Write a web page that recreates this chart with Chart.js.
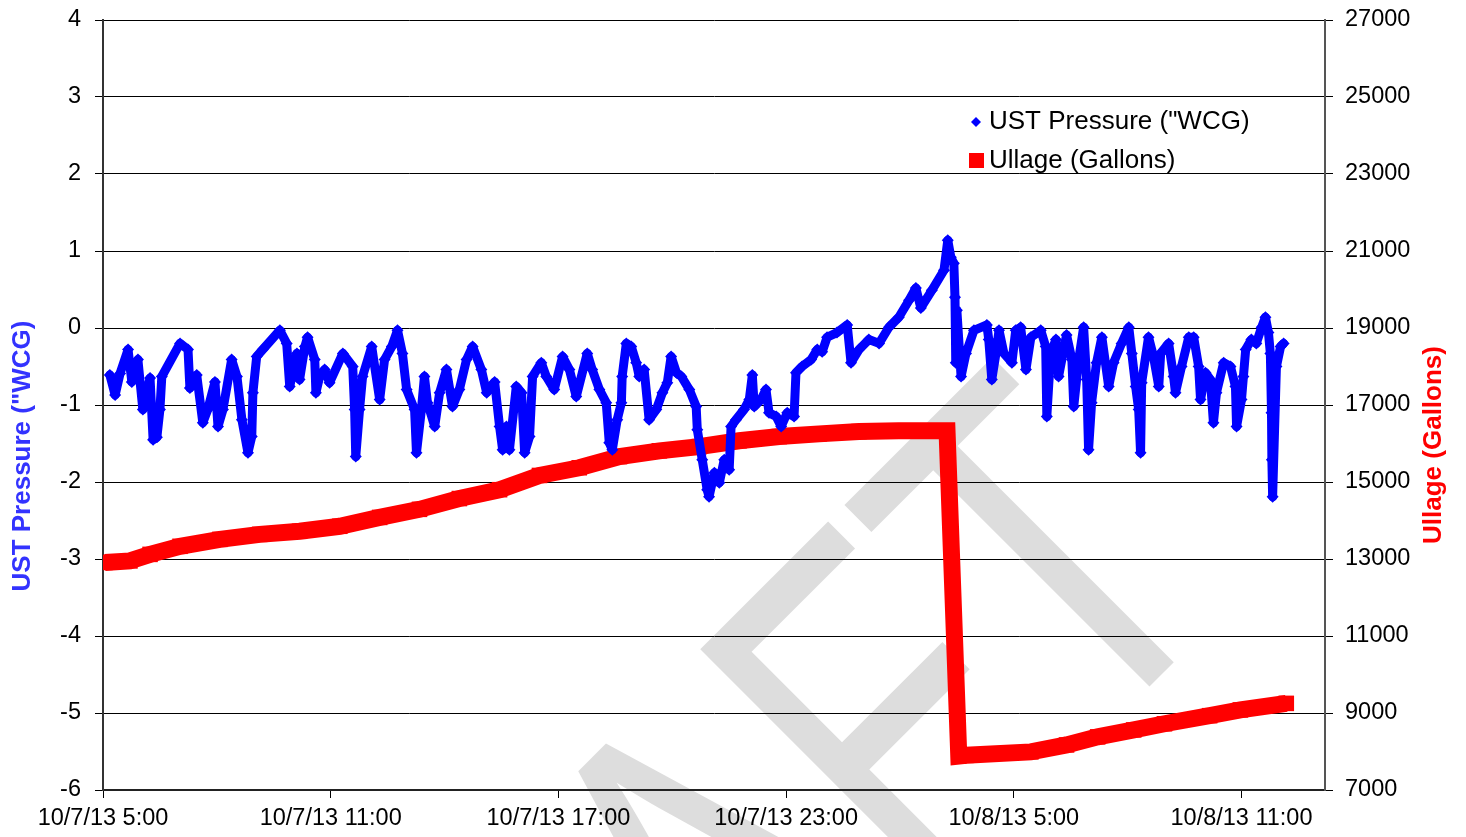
<!DOCTYPE html>
<html>
<head>
<meta charset="utf-8">
<script src="https://cdn.jsdelivr.net/npm/chart.js@4.4.0/dist/chart.umd.min.js"></script>
<style>
  html, body { margin: 0; padding: 0; background: #fff; }
  canvas { display: block; }
</style>
</head>
<body>
<canvas id="ustChart" width="1466" height="837"></canvas>
<script>
// hours after 10/7/13 5:00
const pressureHours = [
  0.18,0.32,0.45,0.66,0.76,0.92,1.05,1.24,1.32,1.42,1.50,1.55,2.03,2.24,2.29,2.47,2.63,2.76,2.95,3.03,
  3.16,3.39,3.53,3.66,3.82,3.92,3.95,4.05,4.21,4.66,4.84,4.92,5.11,5.18,5.32,5.39,5.58,5.61,5.71,5.84,
  5.97,6.32,6.58,6.63,6.66,6.76,6.84,7.08,7.29,7.42,7.61,7.76,7.89,8.00,8.21,8.26,8.39,8.47,8.55,8.74,
  8.87,9.05,9.21,9.39,9.58,9.74,9.97,10.11,10.32,10.45,10.53,10.63,10.71,10.89,11.03,11.11,11.24,11.32,11.55,11.68,
  11.89,12.11,12.29,12.47,12.76,12.89,13.08,13.26,13.34,13.42,13.55,13.66,13.68,13.79,13.92,14.05,14.13,14.26,14.39,14.58,
  14.74,14.87,14.97,15.11,15.24,15.45,15.63,15.66,15.79,15.92,15.97,16.11,16.24,16.37,16.50,16.55,16.68,16.89,17.03,17.11,
  17.16,17.34,17.47,17.55,17.74,17.87,18.03,18.21,18.26,18.42,18.66,18.82,18.95,19.08,19.34,19.61,19.71,19.92,20.18,20.45,
  20.71,20.97,21.24,21.42,21.55,21.84,22.16,22.26,22.34,22.42,22.45,22.47,22.50,22.61,22.74,22.95,23.29,23.34,23.42,23.53,
  23.61,23.74,23.95,24.05,24.18,24.32,24.45,24.71,24.84,24.87,24.97,25.11,25.18,25.39,25.53,25.58,25.71,25.84,25.92,25.97,
  26.05,26.18,26.32,26.50,26.63,26.84,27.03,27.11,27.21,27.29,27.34,27.37,27.55,27.68,27.82,27.87,28.08,28.21,28.26,28.42,
  28.61,28.74,28.87,28.92,29.05,29.18,29.26,29.34,29.53,29.71,29.84,29.87,30.00,30.05,30.11,30.26,30.39,30.53,30.63,30.71,
  30.76,30.79,30.80,30.82,30.92,31.03,31.11
];
const pressureValues = [
  -0.61,-0.87,-0.59,-0.28,-0.70,-0.41,-1.06,-0.65,-1.45,-1.42,-1.06,-0.63,-0.20,-0.28,-0.78,-0.61,-1.23,-1.06,-0.70,-1.28,
  -1.06,-0.41,-0.63,-1.19,-1.62,-1.41,-0.84,-0.37,-0.28,-0.03,-0.20,-0.76,-0.33,-0.67,-0.24,-0.12,-0.41,-0.84,-0.63,-0.54,
  -0.71,-0.33,-0.50,-1.06,-1.67,-1.06,-0.63,-0.24,-0.93,-0.41,-0.24,-0.03,-0.33,-0.80,-1.06,-1.62,-1.06,-0.63,-0.97,-1.28,
  -0.84,-0.54,-1.02,-0.80,-0.41,-0.24,-0.54,-0.84,-0.70,-1.28,-1.58,-1.28,-1.58,-0.76,-0.84,-1.62,-1.41,-0.63,-0.45,-0.63,
  -0.80,-0.37,-0.54,-0.89,-0.33,-0.54,-0.80,-0.97,-1.49,-1.58,-1.19,-0.97,-0.63,-0.20,-0.24,-0.45,-0.63,-0.54,-1.19,-1.06,
  -0.84,-0.71,-0.37,-0.58,-0.63,-0.80,-1.02,-1.32,-1.71,-2.10,-2.19,-1.88,-2.01,-1.71,-1.84,-1.28,-1.19,-1.06,-0.93,-0.61,
  -1.02,-0.93,-0.80,-1.10,-1.15,-1.28,-1.10,-1.15,-0.58,-0.50,-0.41,-0.28,-0.31,-0.12,-0.06,0.04,-0.45,-0.28,-0.15,-0.20,
  0.01,0.14,0.36,0.52,0.26,0.49,0.75,1.14,0.92,0.84,0.40,-0.45,0.23,-0.63,-0.33,-0.03,0.04,-0.15,-0.67,-0.33,
  -0.03,-0.33,-0.45,-0.03,0.01,-0.54,-0.12,-0.03,-0.24,-1.15,-0.33,-0.15,-0.63,-0.09,-0.41,-1.02,-0.41,0.01,-0.67,-1.58,
  -0.97,-0.45,-0.12,-0.76,-0.45,-0.20,0.01,-0.33,-0.76,-1.06,-1.62,-0.71,-0.12,-0.37,-0.76,-0.33,-0.20,-0.63,-0.84,-0.50,
  -0.12,-0.12,-0.50,-0.93,-0.58,-0.67,-1.23,-0.84,-0.45,-0.50,-0.76,-1.28,-0.93,-0.63,-0.28,-0.15,-0.20,0.01,0.14,-0.06,
  -0.33,-1.10,-1.71,-2.19,-0.50,-0.24,-0.20
];

const ullageHours = [0.05, 0.71, 1.24, 2.03, 3.08, 4.13, 5.18, 6.24, 7.29, 8.34, 9.39, 10.45, 11.50, 12.55, 13.61, 14.66,
  15.71, 16.76, 17.82, 18.87, 19.92, 20.97, 22.03, 22.24, 22.55, 22.74, 24.45, 25.39, 26.21, 27.16, 27.97, 29.16, 29.97, 31.18];
const ullageValues = [12910, 12950, 13120, 13330, 13510, 13640, 13720, 13850, 14080, 14290, 14570, 14800, 15170, 15370, 15660, 15810,
  15920, 16070, 16180, 16250, 16310, 16330, 16330, 16330, 7880, 7900, 7990, 8170, 8380, 8560, 8720, 8930, 9080, 9250];

const xTickHours = [0, 6, 12, 18, 24, 30];
const xTickLabels = ['10/7/13 5:00', '10/7/13 11:00', '10/7/13 17:00', '10/7/13 23:00', '10/8/13 5:00', '10/8/13 11:00'];

Chart.defaults.font.family = 'Arial, "Liberation Sans", sans-serif';
Chart.defaults.color = '#000';

// grey DRAFT watermark behind everything
const watermark = {
  id: 'watermark',
  beforeDraw(chart) {
    const ctx = chart.ctx;
    ctx.save();
    ctx.fillStyle = '#fff';
    ctx.fillRect(0, 0, chart.width, chart.height);
    ctx.setTransform(2.616, -2.616, 3.535, 3.535, 922, 914);
    ctx.fillStyle = '#dddddd';
    ctx.font = '100px Arial, "Liberation Sans"';
    ctx.textBaseline = 'alphabetic';
    ctx.textAlign = 'right';
    ctx.fillText('DRA', 0, 0);
    ctx.textAlign = 'left';
    ctx.fillText('FT', 0, 0);
    ctx.restore();
  }
};

// axis titles + legend box inside plot
const extras = {
  id: 'extras',
  afterDraw(chart) {
    const ctx = chart.ctx;
    ctx.save();
    ctx.font = 'bold 26px Arial, "Liberation Sans"';
    ctx.textAlign = 'center';
    ctx.textBaseline = 'middle';

    ctx.save();
    ctx.translate(23, 456);
    ctx.rotate(-Math.PI / 2);
    ctx.fillStyle = '#3333ff';
    ctx.fillText('UST Pressure ("WCG)', 0, 0);
    ctx.restore();

    ctx.save();
    ctx.translate(1434, 445);
    ctx.rotate(-Math.PI / 2);
    ctx.fillStyle = '#ff0000';
    ctx.fillText('Ullage (Gallons)', 0, 0);
    ctx.restore();

    ctx.font = '26px Arial, "Liberation Sans"';
    ctx.textAlign = 'left';
    ctx.fillStyle = '#000';
    ctx.fillText('UST Pressure ("WCG)', 989, 122);
    ctx.fillText('Ullage (Gallons)', 989, 161);

    ctx.fillStyle = '#0000ff';
    ctx.beginPath();
    ctx.moveTo(976, 117); ctx.lineTo(981, 122); ctx.lineTo(976, 127); ctx.lineTo(971, 122);
    ctx.closePath();
    ctx.fill();
    ctx.fillStyle = '#ff0000';
    ctx.fillRect(969, 153, 15, 15);
    ctx.restore();
  }
};

const pressurePoints = pressureHours.map((h, i) => ({ x: h, y: pressureValues[i] }));
const ullagePoints = ullageHours.map((h, i) => ({ x: h, y: ullageValues[i] }));

// keep the plot box where the original has it
function fixVertical(width) {
  return (axis) => {
    axis.width = width;
    axis.paddingTop = 0;
    axis.paddingBottom = 0;
  };
}

new Chart(document.getElementById('ustChart'), {
  type: 'scatter',
  data: {
    datasets: [
      {
        label: 'UST Pressure ("WCG)',
        data: pressurePoints,
        yAxisID: 'y',
        showLine: true,
        borderColor: '#0000ff',
        backgroundColor: '#0000ff',
        borderWidth: 9,
        borderJoinStyle: 'round',
        borderCapStyle: 'round',
        pointStyle: 'rectRot',
        pointRadius: 6,
        pointBorderWidth: 0,
        tension: 0
      },
      {
        label: 'Ullage (Gallons)',
        data: ullagePoints,
        yAxisID: 'y2',
        showLine: true,
        borderColor: '#ff0000',
        backgroundColor: '#ff0000',
        borderWidth: 17,
        borderJoinStyle: 'miter',
        pointStyle: 'rect',
        pointRadius: 11,
        pointBorderWidth: 0,
        tension: 0
      }
    ]
  },
  options: {
    responsive: false,
    animation: false,
    events: [],
    layout: { padding: { top: 20, left: 0, right: 0, bottom: 0 } },
    plugins: { legend: { display: false }, tooltip: { enabled: false } },
    scales: {
      x: {
        type: 'linear',
        position: 'bottom',
        min: 0,
        max: 32.2,
        afterBuildTicks: (axis) => { axis.ticks = xTickHours.map(v => ({ value: v })); },
        afterFit: (axis) => { axis.height = 47; },
        ticks: {
          autoSkip: false,
          maxRotation: 0,
          padding: 6,
          font: { size: 23.5 },
          color: '#000',
          callback: (v) => xTickLabels[xTickHours.indexOf(v)]
        },
        grid: { drawOnChartArea: false, drawTicks: true, tickLength: 8, color: '#000' },
        border: { color: '#222', width: 2 }
      },
      y: {
        position: 'left',
        min: -6,
        max: 4,
        afterFit: fixVertical(103),
        ticks: { stepSize: 1, padding: 14, font: { size: 23.5 }, color: '#000', callback: (v) => String(v) },
        grid: { color: '#000', lineWidth: 1, tickLength: 8 },
        border: { color: '#333', width: 2 }
      },
      y2: {
        position: 'right',
        min: 7000,
        max: 27000,
        afterFit: fixVertical(141),
        ticks: { stepSize: 2000, padding: 12, font: { size: 23.5 }, color: '#000', callback: (v) => String(v) },
        grid: { drawOnChartArea: false, tickLength: 8, color: '#000' },
        border: { color: '#555', width: 2 }
      }
    }
  },
  plugins: [watermark, extras]
});
</script>
</body>
</html>
